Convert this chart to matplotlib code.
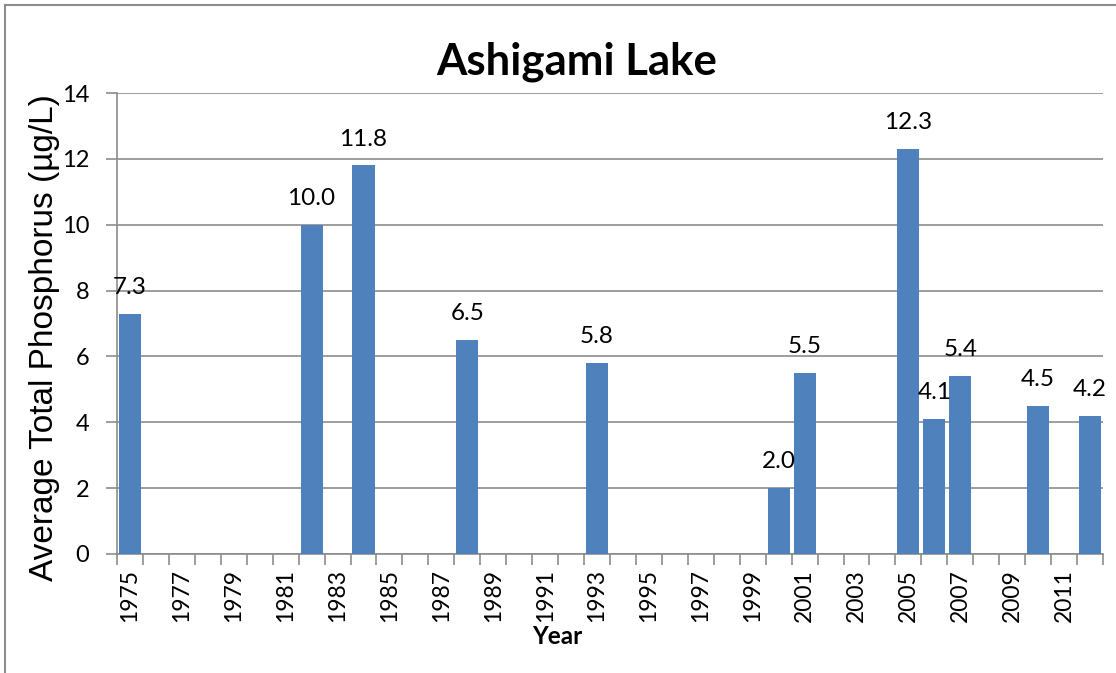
import matplotlib

matplotlib.use("Agg")
import matplotlib.pyplot as plt
import numpy as np
from matplotlib.lines import Line2D

years = list(range(1975, 2013))
bar_years = [1975, 1982, 1984, 1988, 1993, 2000, 2001, 2005, 2006, 2007, 2010, 2012]
phosphorus = [7.3, 10.0, 11.8, 6.5, 5.8, 2.0, 5.5, 12.3, 4.1, 5.4, 4.5, 4.2]
y_ticks = [0, 2, 4, 6, 8, 10, 12, 14]

BAR_COLOR = "#4F81BD"
GRID_COLOR = "#8C8C8C"
BODY_FONT = ["Lato", "DejaVu Sans"]

W, H = 1116, 673
fig = plt.figure(figsize=(W / 100, H / 100), dpi=100)
ax = fig.add_axes([117 / W, 1 - 554 / H, (1103 - 117) / W, (554 - 93) / H])

pos = [years.index(y) for y in bar_years]
ax.bar(pos, phosphorus, width=0.85, color=BAR_COLOR, zorder=3)

for x, v in zip(pos, phosphorus):
    ax.annotate(f"{v:.1f}", (x, v), xytext=(0, 19), textcoords="offset points",
                ha="center", va="center", fontsize=17.5, family=BODY_FONT)

ax.set_xlim(-0.5, len(years) - 0.5)
ax.set_ylim(0, 14)
ax.set_yticks(y_ticks)
ax.yaxis.grid(True, color=GRID_COLOR, lw=1.2, zorder=0)
ax.set_axisbelow(True)

# category boundaries get tick marks, every other category gets a label
ax.set_xticks(np.arange(-0.5, len(years), 1.0))
ax.set_xticklabels([])
ax.set_xticks(range(0, len(years), 2), minor=True)
ax.set_xticklabels([str(years[i]) for i in range(0, len(years), 2)], minor=True,
                   rotation=90, fontsize=16.5, family=BODY_FONT)
ax.tick_params(axis="x", which="major", length=8, color=GRID_COLOR, width=1.2)
ax.tick_params(axis="x", which="minor", length=0, pad=11)
ax.tick_params(axis="y", length=8, color=GRID_COLOR, width=1.2, labelsize=17, pad=12)
for lbl in ax.get_yticklabels():
    lbl.set_family(BODY_FONT)

for side in ("top", "right"):
    ax.spines[side].set_visible(False)
for side in ("left", "bottom"):
    ax.spines[side].set_color(GRID_COLOR)
    ax.spines[side].set_linewidth(1.2)

ax.set_ylabel("Average Total Phosphorus (µg/L)", fontsize=24,
              family=["Liberation Sans", "DejaVu Sans"])
ax.yaxis.set_label_coords(-0.058, 0.47)

fig.text(577 / W, 1 - 62 / H, "Ashigami Lake", ha="center", va="center",
         fontsize=31.5, fontweight="bold", family=BODY_FONT)
fig.text(557 / W, 1 - 636 / H, "Year", ha="center", va="center",
         fontsize=17.5, fontweight="bold", family=BODY_FONT)

# chart-area border (top and left edges visible in the crop)
fig.add_artist(Line2D([5 / W, 1], [1 - 5 / H, 1 - 5 / H], transform=fig.transFigure,
                      color=GRID_COLOR, lw=1.5))
fig.add_artist(Line2D([5 / W, 5 / W], [0, 1 - 5 / H], transform=fig.transFigure,
                      color=GRID_COLOR, lw=1.5))

fig.savefig("out.png", dpi=100)
